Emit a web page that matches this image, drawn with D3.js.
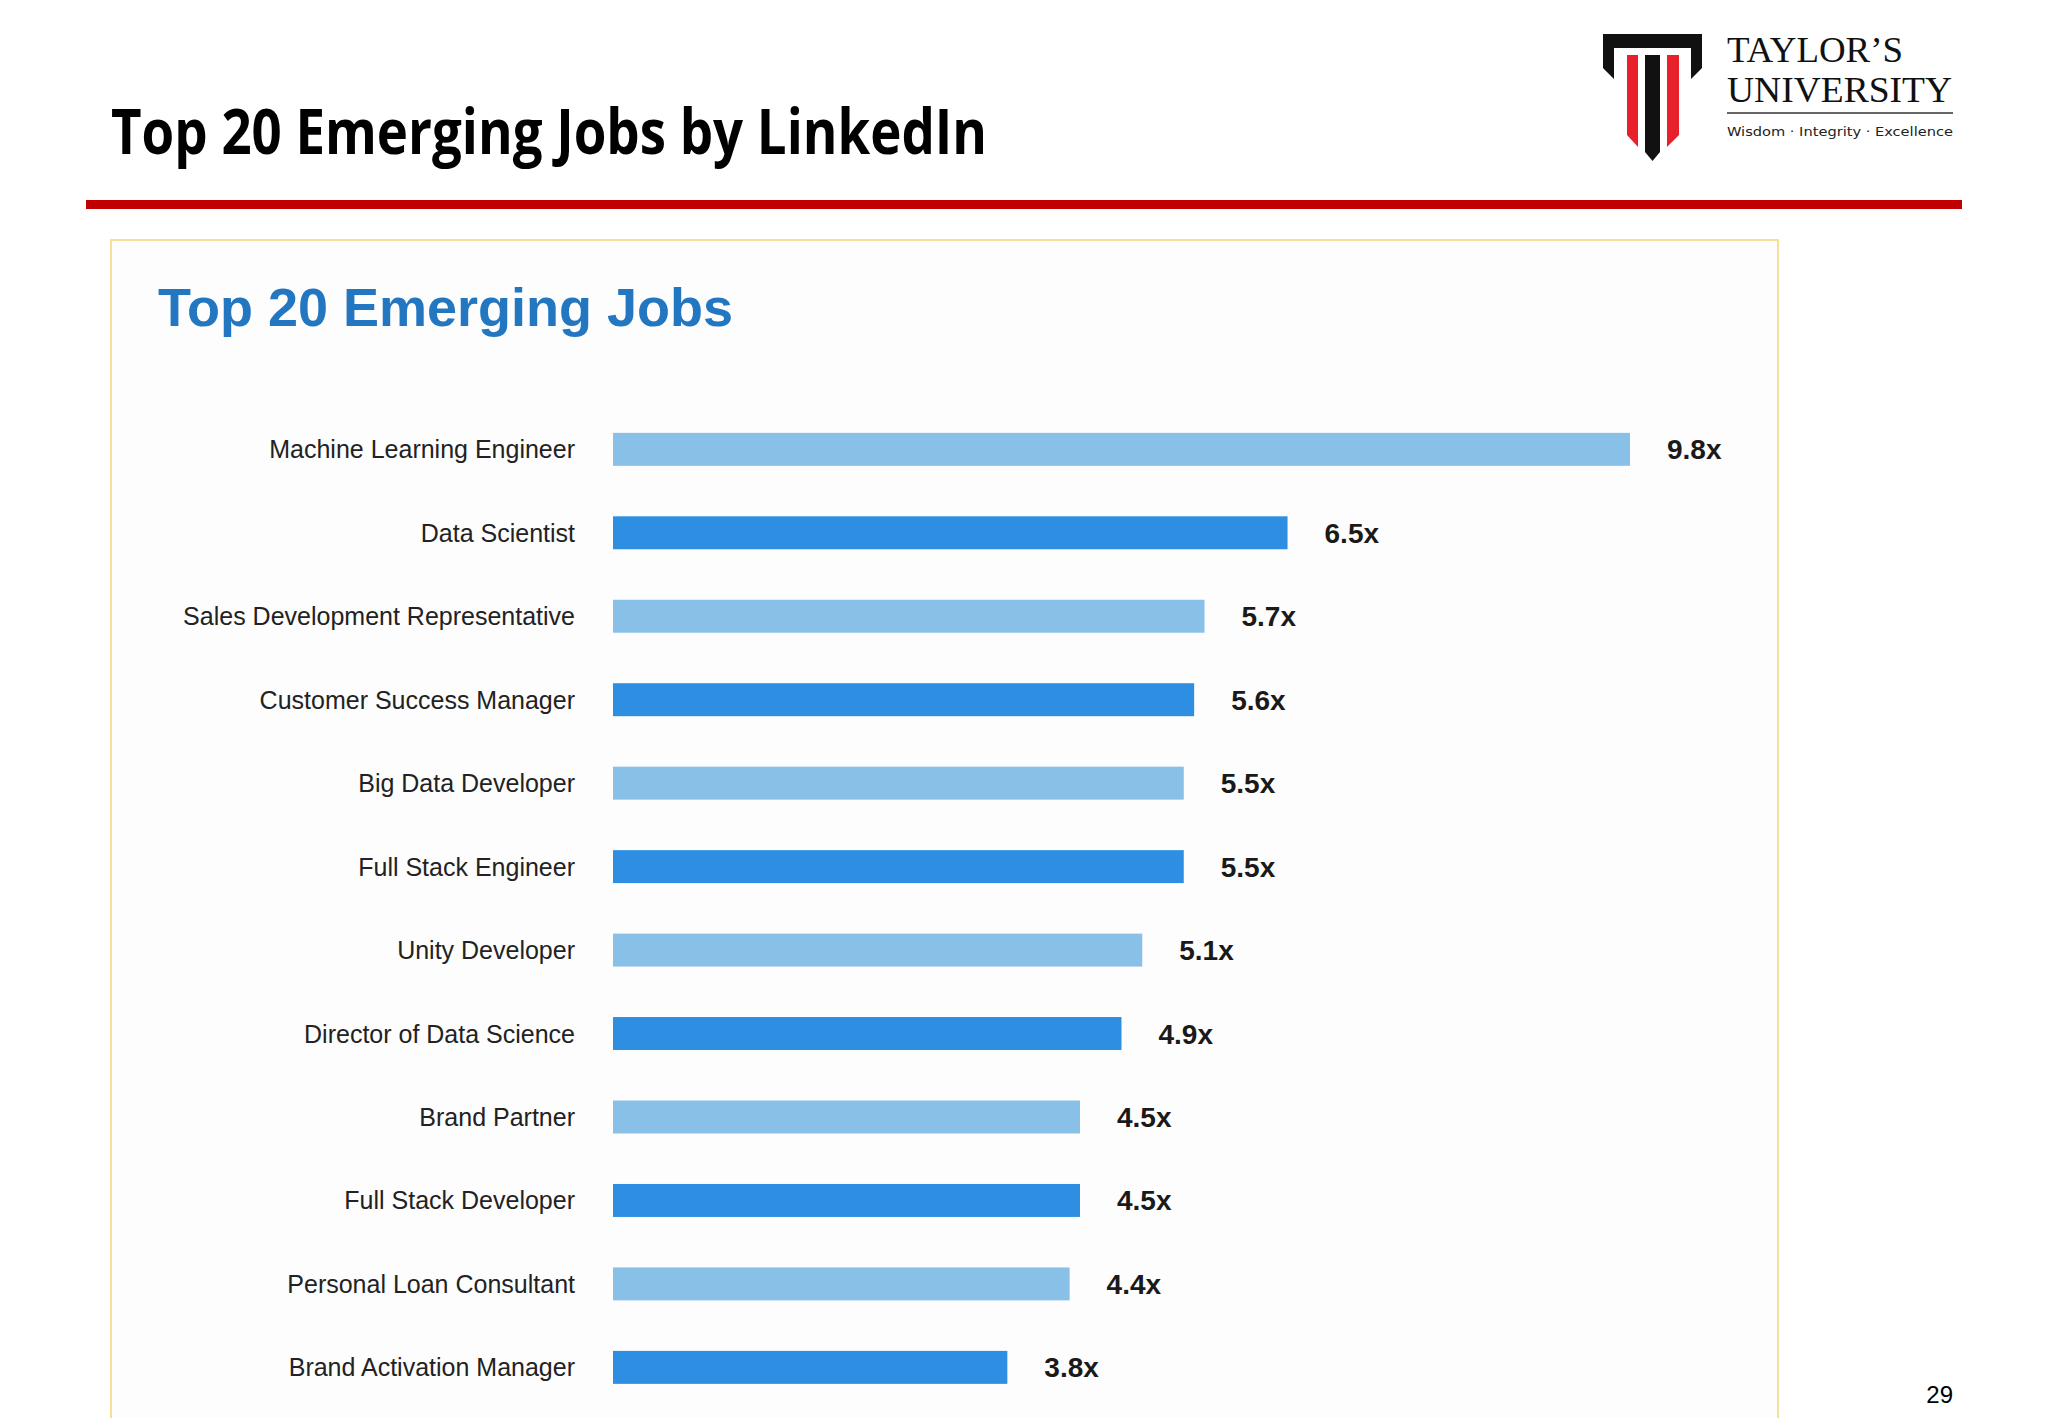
<!DOCTYPE html>
<html>
<head>
<meta charset="utf-8">
<script src="https://cdn.jsdelivr.net/npm/d3@7/dist/d3.min.js"></script>
<style>
  html, body { margin: 0; padding: 0; background: #fff; }
  svg { display: block; }
</style>
</head>
<body>
<svg id="chart" width="2048" height="1418"></svg>
<script>
// ---------- data ----------
const jobs = [
  "Machine Learning Engineer",
  "Data Scientist",
  "Sales Development Representative",
  "Customer Success Manager",
  "Big Data Developer",
  "Full Stack Engineer",
  "Unity Developer",
  "Director of Data Science",
  "Brand Partner",
  "Full Stack Developer",
  "Personal Loan Consultant",
  "Brand Activation Manager"
];
const growth = [9.8, 6.5, 5.7, 5.6, 5.5, 5.5, 5.1, 4.9, 4.5, 4.5, 4.4, 3.8];
const barColors = ["#88c0e8", "#2e8fe2"];

const svg = d3.select("#chart");

// ---------- slide header ----------
svg.append("text")
  .attr("x", 111).attr("y", 154)
  .attr("font-family", "'Open Sans', sans-serif")
  .attr("font-weight", 700)
  .attr("font-size", 62)
  .attr("textLength", 876)
  .attr("lengthAdjust", "spacingAndGlyphs")
  .attr("fill", "#000")
  .text("Top 20 Emerging Jobs by LinkedIn");

svg.append("rect")
  .attr("x", 86).attr("y", 200)
  .attr("width", 1876).attr("height", 9)
  .attr("fill", "#c00000");

// logo
const logo = svg.append("g");
logo.append("polygon")
  .attr("points", "1603,34 1702,34 1702,68 1691,79 1691,48 1614,48 1614,79 1603,68")
  .attr("fill", "#111");
logo.append("polygon")
  .attr("points", "1627,55 1638,55 1638,147 1627,135")
  .attr("fill", "#e8202a");
logo.append("polygon")
  .attr("points", "1667,55 1679,55 1679,135 1667,147")
  .attr("fill", "#e8202a");
logo.append("polygon")
  .attr("points", "1645,55 1660,55 1660,152 1652.5,161 1645,152")
  .attr("fill", "#111");
logo.append("text")
  .attr("x", 1727).attr("y", 62)
  .attr("font-family", "'Liberation Serif', serif")
  .attr("font-size", 36)
  .attr("textLength", 176)
  .attr("lengthAdjust", "spacingAndGlyphs")
  .attr("fill", "#111")
  .text("TAYLOR’S");
logo.append("text")
  .attr("x", 1727).attr("y", 102)
  .attr("font-family", "'Liberation Serif', serif")
  .attr("font-size", 36)
  .attr("textLength", 225)
  .attr("lengthAdjust", "spacingAndGlyphs")
  .attr("fill", "#111")
  .text("UNIVERSITY");
logo.append("rect")
  .attr("x", 1727).attr("y", 112)
  .attr("width", 226).attr("height", 2)
  .attr("fill", "#666");
logo.append("text")
  .attr("x", 1727).attr("y", 136)
  .attr("font-family", "'DejaVu Sans Condensed', 'DejaVu Sans', sans-serif")
  .attr("font-size", 13)
  .attr("textLength", 226)
  .attr("lengthAdjust", "spacingAndGlyphs")
  .attr("fill", "#222")
  .text("Wisdom · Integrity · Excellence");

// page number
svg.append("text")
  .attr("x", 1953).attr("y", 1403)
  .attr("text-anchor", "end")
  .attr("font-family", "'Liberation Sans', Arial, sans-serif")
  .attr("font-size", 24)
  .attr("fill", "#000")
  .text("29");

// ---------- embedded chart panel ----------
svg.append("rect")
  .attr("x", 111).attr("y", 240)
  .attr("width", 1667).attr("height", 1200)
  .attr("fill", "#fdfdfe")
  .attr("stroke", "#f6df9a")
  .attr("stroke-width", 2);

svg.append("text")
  .attr("x", 158).attr("y", 326)
  .attr("font-family", "'Liberation Sans', Arial, sans-serif")
  .attr("font-weight", 700)
  .attr("font-size", 54)
  .attr("fill", "#2377c0")
  .text("Top 20 Emerging Jobs");

const x = d3.scaleLinear().domain([0, 9.8]).range([613, 1630]);
const y = d3.scaleBand()
  .domain(jobs)
  .range([407.6, 1409.1])
  .paddingInner(0.605)
  .paddingOuter(0.3025);

const rows = svg.append("g")
  .selectAll("g")
  .data(jobs.map((j, i) => ({ job: j, value: growth[i], i })))
  .join("g");

rows.append("rect")
  .attr("x", x(0))
  .attr("y", (d) => y(d.job))
  .attr("width", (d) => x(d.value) - x(0))
  .attr("height", y.bandwidth())
  .attr("fill", (d) => barColors[d.i % 2]);

rows.append("text")
  .attr("x", 575)
  .attr("y", (d) => y(d.job) + y.bandwidth() / 2 + 9)
  .attr("text-anchor", "end")
  .attr("font-family", "'Liberation Sans', Arial, sans-serif")
  .attr("font-size", 25)
  .attr("fill", "#222")
  .text((d) => d.job);

rows.append("text")
  .attr("x", (d) => x(d.value) + 37)
  .attr("y", (d) => y(d.job) + y.bandwidth() / 2 + 10)
  .attr("font-family", "'Liberation Sans', Arial, sans-serif")
  .attr("font-weight", 700)
  .attr("font-size", 28)
  .attr("fill", "#1a1a1a")
  .text((d) => d.value.toFixed(1) + "x");
</script>
</body>
</html>
